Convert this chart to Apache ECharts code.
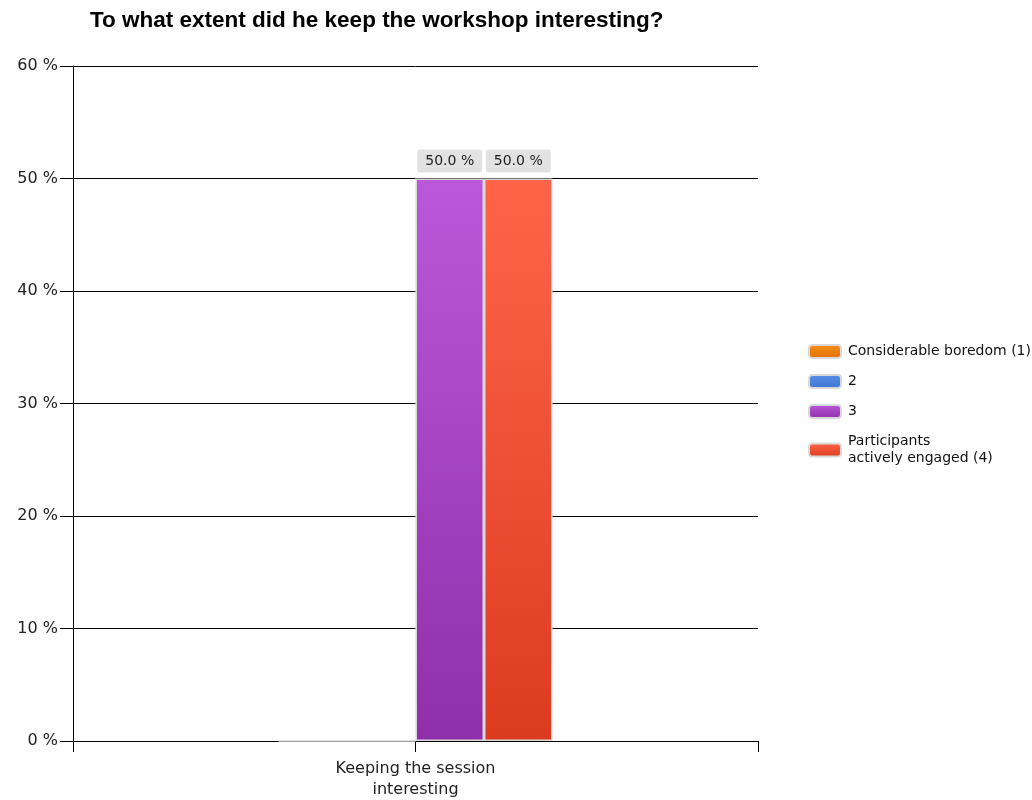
<!DOCTYPE html>
<html><head><meta charset="utf-8">
<script src="https://cdn.jsdelivr.net/npm/echarts@6/dist/echarts.min.js"></script>
<style>html,body{margin:0;padding:0;background:#fff}#c{width:1032px;height:800px}</style>
</head><body><div id="c"></div>
<script>
const categories = ['Keeping the session\ninteresting'];
const seriesNames = ['Considerable boredom (1)', '2', '3', 'Participants\nactively engaged (4)'];
const seriesValues = [[0], [0], [50], [50]];
const yTicks = [0, 10, 20, 30, 40, 50, 60];
const colorsTop = ['#f7901a', '#5b90e8', '#bb58d9', '#ff6449'];
const colorsBottom = ['#e07000', '#3f74cf', '#8f2fab', '#db3c20'];

const FONT = 'DejaVu Sans';
const chart = echarts.init(document.getElementById('c'));
const series = seriesNames.map((n, i) => ({
  name: n,
  type: 'bar',
  data: seriesValues[i],
  barWidth: '10%',
  barGap: '0%',
  itemStyle: {
    color: new echarts.graphic.LinearGradient(0, 0, 0, 1, [
      {offset: 0, color: colorsTop[i]}, {offset: 1, color: colorsBottom[i]}]),
    borderColor: '#d9d9d9', borderWidth: 1.5
  },
  label: {
    show: seriesValues[i][0] > 0,
    position: 'top', distance: 6,
    formatter: p => p.value.toFixed(1) + ' %',
    backgroundColor: '#e2e2e2', borderRadius: 3, padding: [5, 8, 4, 8],
    color: '#222', fontFamily: FONT, fontSize: 14
  }
}));
chart.setOption({
  animation: false,
  title: {
    text: 'To what extent did he keep the workshop interesting?',
    left: 90, top: 9, padding: 0,
    textStyle: {fontFamily: 'Liberation Sans', fontWeight: 'bold', fontSize: 22.5, color: '#000'}
  },
  legend: {
    orient: 'vertical', left: 808, top: 343, padding: 0,
    itemWidth: 32, itemHeight: 13, itemGap: 13,
    data: seriesNames,
    textStyle: {fontFamily: FONT, fontSize: 14, color: '#111', lineHeight: 17, padding: [0, 0, 0, 2]},
    itemStyle: {borderColor: '#d9d9d9', borderWidth: 2}
  },
  grid: {left: 73, right: 274, top: 66, bottom: 57},
  xAxis: [{
    type: 'category', data: categories,
    axisLine: {lineStyle: {color: '#000'}},
    axisTick: {show: false},
    axisLabel: {fontFamily: FONT, fontSize: 16, color: '#222', margin: 17, lineHeight: 21}
  }, {
    type: 'value', min: 0, max: 2, interval: 1, position: 'bottom',
    axisLine: {show: false}, splitLine: {show: false},
    axisTick: {show: true, length: 11, lineStyle: {color: '#000'}},
    axisLabel: {show: false}
  }],
  yAxis: {
    type: 'value', min: yTicks[0], max: yTicks[yTicks.length - 1], interval: 10,
    axisLine: {show: true, lineStyle: {color: '#000'}},
    axisTick: {show: true, length: 13, lineStyle: {color: '#000'}},
    splitLine: {lineStyle: {color: '#000'}},
    axisLabel: {formatter: '{value} %', fontFamily: FONT, fontSize: 16, color: '#222', margin: 15}
  },
  series: series
});
</script></body></html>
